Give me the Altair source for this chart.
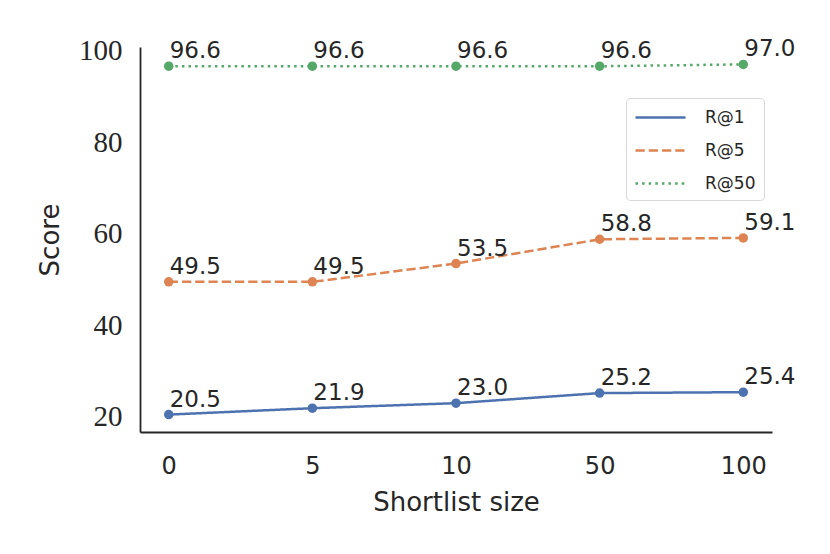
import altair as alt
import pandas as pd

shortlist = ["0", "5", "10", "50", "100"]
r_at_1 = [20.5, 21.9, 23.0, 25.2, 25.4]
r_at_5 = [49.5, 49.5, 53.5, 58.8, 59.1]
r_at_50 = [96.6, 96.6, 96.6, 96.6, 97.0]
series_names = ["R@1", "R@5", "R@50"]
series_colors = ["#4C72B0", "#DD8452", "#55A868"]
series_dash = [[1, 0], [9.25, 4], [2.5, 4.1]]
y_ticks = [20, 40, 60, 80, 100]

rows = []
for name, vals in zip(series_names, [r_at_1, r_at_5, r_at_50]):
    for xv, yv in zip(shortlist, vals):
        rows.append({"size": xv, "score": yv, "metric": name})
df = pd.DataFrame(rows)

SANS = "DejaVu Sans"
SERIF = "Liberation Serif"
TXT = "#262626"

x_enc = alt.X(
    "size:N",
    sort=shortlist,
    scale=alt.Scale(type="point", padding=0.2),
    axis=alt.Axis(
        title="Shortlist size",
        labelAngle=0,
        ticks=False,
        tickSize=0,
        labelPadding=41,
        labelBaseline="alphabetic",
        labelFont=SANS,
        labelFontSize=24,
        labelColor=TXT,
        titleFont=SANS,
        titleFontSize=26,
        titleFontWeight="normal",
        titleColor=TXT,
        titleY=78,
        titleBaseline="alphabetic",
        domainColor=TXT,
        domainWidth=1.8,
        grid=False,
    ),
)
y_enc = alt.Y(
    "score:Q",
    scale=alt.Scale(domain=[16.7, 100.8], nice=False, zero=False),
    axis=alt.Axis(
        title="Score",
        values=y_ticks,
        ticks=False,
        tickSize=0,
        labelPadding=18,
        labelFont=SERIF,
        labelFontSize=29,
        labelColor=TXT,
        labelBaseline="middle",
        titleFont=SANS,
        titleFontSize=26,
        titleFontWeight="normal",
        titleColor=TXT,
        titleX=-90,
        titleY=192.5,
        titleBaseline="middle",
        domainColor=TXT,
        domainWidth=1.8,
        grid=False,
    ),
)

color_scale = alt.Scale(domain=series_names, range=series_colors)
dash_scale = alt.Scale(domain=series_names, range=series_dash)

legend = alt.Legend(
    title=None,
    orient="none",
    legendX=486,
    legendY=51,
    symbolType="M-1,0H4",
    symbolSize=400,
    symbolStrokeWidth=2.5,
    labelFont=SANS,
    labelFontSize=17,
    labelColor=TXT,
    labelOffset=18 + 30,
    rowPadding=13,
    padding=8,
    fillColor="white",
    strokeColor="#d9d9d9",
    cornerRadius=4,
)

base = alt.Chart(df).encode(x=x_enc, y=y_enc)

lines = base.mark_line(strokeWidth=2.5).encode(
    color=alt.Color("metric:N", scale=color_scale, sort=series_names, legend=legend),
    strokeDash=alt.StrokeDash("metric:N", scale=dash_scale, sort=series_names, legend=legend),
)

points = base.mark_point(filled=True, size=90, opacity=1).encode(
    color=alt.Color("metric:N", scale=color_scale, legend=None),
)

labels = base.mark_text(
    align="left", baseline="alphabetic", dx=1, dy=-8,
    font=SANS, fontSize=23, color=TXT,
).encode(text=alt.Text("score:Q", format=".1f"))

chart = alt.layer(lines, points, labels).properties(
    width=632,
    height=385,
    background="white",
    autosize=alt.AutoSizeParams(type="none"),
    padding={"left": 132, "top": 39, "right": 40, "bottom": 100},
).configure_view(stroke=None, strokeWidth=0)

chart.save("out.html", embed_options={"renderer": "svg", "actions": False})
